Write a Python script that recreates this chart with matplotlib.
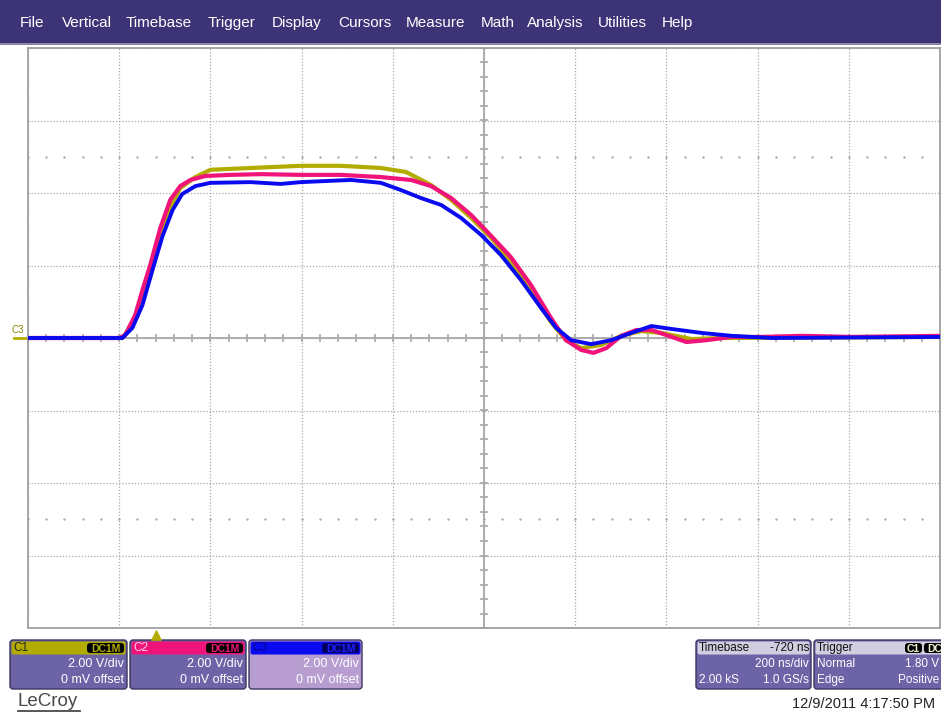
import matplotlib
matplotlib.use("Agg")
import matplotlib.pyplot as plt
from matplotlib.patches import FancyBboxPatch, Rectangle
from matplotlib.transforms import blended_transform_factory
import numpy as np

plt.rcParams['font.family'] = ['Liberation Sans', 'DejaVu Sans']

# --- scope settings ---
ns_per_div = 200
volts_per_div = 2.0
t_left = -280          # trigger sits 1.4 div from the left edge
n_xdiv, n_ydiv = 10, 8

menu_items = ["File", "Vertical", "Timebase", "Trigger", "Display", "Cursors",
              "Measure", "Math", "Analysis", "Utilities", "Help"]
menu_x = [20, 62, 126, 208, 272, 338, 406, 481, 527, 598, 662]

# --- traces (time ns, volts) ---
c1_t = [-280, -73, -51, -34, -12, 10, 32, 54, 87, 120, 208, 318, 406, 494, 549,
        604, 648, 692, 736, 779, 823, 867, 900, 933, 977, 1021, 1065, 1109, 1175,
        1241, 1725]
c1_v = [0.0, 0.0, 0.36, 0.91, 1.68, 2.70, 3.59, 4.14, 4.44, 4.64, 4.69, 4.75, 4.75,
        4.69, 4.58, 4.22, 3.81, 3.31, 2.76, 2.10, 1.27, 0.44, -0.06, -0.28, -0.19,
        0.06, 0.19, 0.14, -0.03, 0.0, 0.03]

c2_t = [-280, -80, -67, -45, -29, -12, 10, 32, 54, 76, 109, 164, 230, 318, 406, 494,
        560, 604, 648, 692, 736, 779, 823, 867, 900, 933, 960, 988, 1021, 1054, 1087,
        1120, 1164, 1208, 1263, 1329, 1417, 1527, 1725]
c2_v = [0.0, 0.0, 0.08, 0.63, 1.32, 2.01, 3.03, 3.81, 4.19, 4.36, 4.47, 4.50, 4.52,
        4.50, 4.50, 4.44, 4.36, 4.19, 3.86, 3.39, 2.81, 2.23, 1.46, 0.55, -0.06, -0.33,
        -0.41, -0.28, 0.06, 0.22, 0.22, 0.08, -0.11, -0.06, 0.03, 0.03, 0.06, 0.03, 0.06]

c3_t = [-280, -73, -51, -29, -7, 15, 37, 58, 87, 120, 208, 274, 318, 428, 494, 538,
        582, 626, 670, 714, 757, 801, 845, 878, 911, 955, 999, 1043, 1087, 1131, 1197,
        1263, 1351, 1725]
c3_v = [0.0, 0.0, 0.28, 0.91, 1.88, 2.81, 3.53, 3.97, 4.19, 4.28, 4.30, 4.25, 4.30,
        4.36, 4.28, 4.08, 3.86, 3.67, 3.31, 2.84, 2.29, 1.60, 0.83, 0.28, -0.06, -0.17,
        -0.06, 0.14, 0.33, 0.25, 0.14, 0.06, 0.0, 0.03]

c1_col, c2_col, c3_col = "#b3ac00", "#f0147a", "#0a0af0"
grid_col = "#a8a8a8"

W, H = 941, 713
fig = plt.figure(figsize=(W / 100, H / 100), dpi=100)
fig.patch.set_facecolor("white")

# overlay in pixel coordinates for the scope chrome
ov = fig.add_axes([0, 0, 1, 1], zorder=0)
ov.set_xlim(0, W)
ov.set_ylim(H, 0)
ov.axis("off")

ov.add_patch(Rectangle((0, 0), W, 43, color="#3d3478", lw=0))
ov.add_patch(Rectangle((0, 43), W, 2, color="#8a86a8", lw=0))
for name, x in zip(menu_items, menu_x):
    ov.text(x, 23, name, color="white", fontsize=11, va="center", ha="left")

# --- graticule ---
left, right, top, bottom = 28, 940, 48, 628
ax = fig.add_axes([left / W, 1 - bottom / H, (right - left) / W, (bottom - top) / H], zorder=2)
t_right = t_left + n_xdiv * ns_per_div
v_half = n_ydiv / 2 * volts_per_div
ax.set_xlim(t_left, t_right)
ax.set_ylim(-v_half, v_half)
ax.set_xticks(np.arange(t_left, t_right + 1, ns_per_div))
ax.set_yticks(np.arange(-v_half, v_half + 0.1, volts_per_div))
ax.tick_params(length=0, labelbottom=False, labelleft=False)
ax.grid(True, color=grid_col, linestyle=(0, (1, 1.5)), linewidth=0.9)
for s in ax.spines.values():
    s.set_color("#a0a0a0")
    s.set_linewidth(1.3)

t_mid = t_left + n_xdiv / 2 * ns_per_div
ax.axvline(t_mid, color=grid_col, lw=1.3, zorder=1)
ax.axhline(0, color=grid_col, lw=1.3, zorder=1)
minor_t = np.arange(t_left, t_right + 1, ns_per_div / 5)
minor_v = np.arange(-v_half, v_half + 0.01, volts_per_div / 5)
ax.scatter(minor_t, np.zeros_like(minor_t), marker="|", s=36, color=grid_col, lw=1.2, zorder=1)
ax.scatter(np.full_like(minor_v, t_mid), minor_v, marker="_", s=36, color=grid_col, lw=1.2, zorder=1)
for vrow in (2.5 * volts_per_div, -2.5 * volts_per_div):
    ax.scatter(minor_t, np.full_like(minor_t, vrow), marker=".", s=2, color=grid_col, zorder=1)

ax.plot(c1_t, c1_v, color=c1_col, lw=3, zorder=3)
ax.plot(c2_t, c2_v, color=c2_col, lw=3, zorder=4)
ax.plot(c3_t, c3_v, color=c3_col, lw=2.8, zorder=5)

# trigger position marker under the grid
trans = blended_transform_factory(ax.transData, ax.transAxes)
ax.scatter([0], [-0.012], marker="^", s=45, color=c1_col, transform=trans, clip_on=False, zorder=6)

# ground marker on the left
ov.plot([14, 27], [338, 338], color=c1_col, lw=2)
ov.text(12, 330, "C3", color="#8a8400", fontsize=7, va="center", ha="left")

# --- channel / timebase panels ---
body_col = "#6c64a6"
edge_col = "#3a3560"

def panel(x0, x1, hdr_col, body=body_col):
    ov.add_patch(FancyBboxPatch((x0, 640), x1 - x0, 49, boxstyle="round,pad=0,rounding_size=3",
                                fc=body, ec=edge_col, lw=1))
    ov.add_patch(FancyBboxPatch((x0 + 1.5, 641.5), x1 - x0 - 3, 13, boxstyle="round,pad=0,rounding_size=2",
                                fc=hdr_col, ec="none"))

def tag(x0, x1, text, fc, tc):
    ov.add_patch(FancyBboxPatch((x0, 643), x1 - x0, 10, boxstyle="round,pad=0,rounding_size=3",
                                fc=fc, ec="none"))
    ov.text((x0 + x1) / 2, 648.5, text, color=tc, fontsize=7.5, ha="center", va="center", fontweight="bold")

channels = [("C1", 10, 127, c1_col, body_col, "#222222", "#000000", c1_col),
            ("C2", 130, 246, c2_col, body_col, "#ffd0e4", "#000000", c2_col),
            ("C3", 249, 362, c3_col, "#b79dd0", "#000090", "#000060", "#2020ff")]
for name, x0, x1, hc, bc, nc, tagfc, tagtc in channels:
    panel(x0, x1, hc, bc)
    ov.text(x0 + 3, 648, name, color=nc, fontsize=8.5, va="center", ha="left")
    tag(x1 - 40, x1 - 3, "DC1M", tagfc, tagtc)
    ov.text(x1 - 3, 664, "2.00 V/div", color="white", fontsize=9, ha="right", va="center")
    ov.text(x1 - 3, 680, "0 mV offset", color="white", fontsize=9, ha="right", va="center")

panel(696, 811, "#d2cee2")
ov.text(699, 648, "Timebase", color="#111111", fontsize=8.5, va="center")
ov.text(809, 648, "-720 ns", color="#111111", fontsize=8.5, va="center", ha="right")
ov.text(809, 664, "200 ns/div", color="white", fontsize=8.5, va="center", ha="right")
ov.text(699, 680, "2.00 kS", color="white", fontsize=8.5, va="center")
ov.text(809, 680, "1.0 GS/s", color="white", fontsize=8.5, va="center", ha="right")

panel(814, 950, "#d2cee2")
ov.text(817, 648, "Trigger", color="#111111", fontsize=8.5, va="center")
tag(905, 922, "C1", "#000000", "#f0f0d0")
tag(924, 945, "DC", "#000000", "#f0f0d0")
ov.text(817, 664, "Normal", color="white", fontsize=8.5, va="center")
ov.text(939, 664, "1.80 V", color="white", fontsize=8.5, va="center", ha="right")
ov.text(817, 680, "Edge", color="white", fontsize=8.5, va="center")
ov.text(939, 680, "Positive", color="white", fontsize=8.5, va="center", ha="right")

ov.text(935, 704, "12/9/2011 4:17:50 PM", color="#222222", fontsize=10.5, va="center", ha="right")
ov.text(18, 701, "LeCroy", color="#4a4a4a", fontsize=13.5, va="center", ha="left")
ov.plot([18, 80], [711, 711], color="#4a4a4a", lw=1.3)

fig.savefig("out.png", dpi=100)
